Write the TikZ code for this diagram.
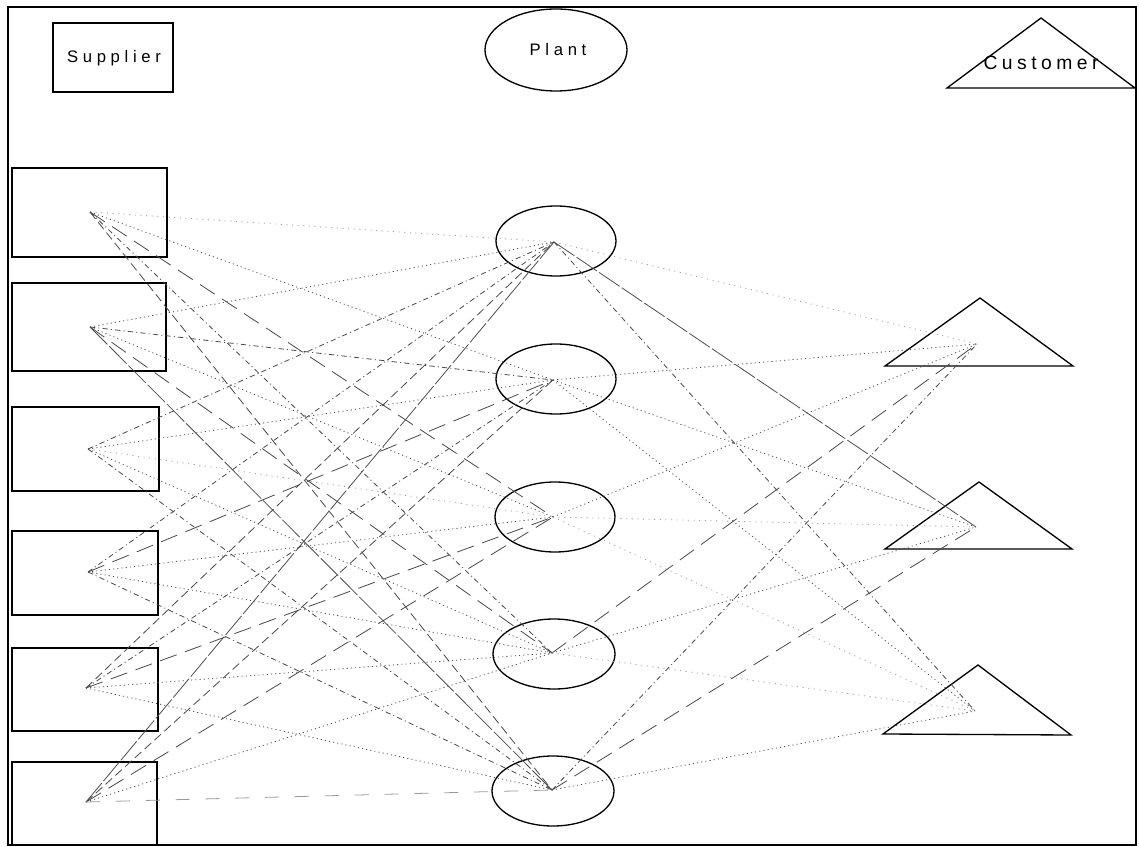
\documentclass[tikz,border=0pt]{standalone}
\usepackage{fontspec}
\setmainfont{Liberation Sans}
\newfontfamily\spacedfont[LetterSpace=28]{Liberation Sans}
\newfontfamily\widefont[LetterSpace=23]{Liberation Sans}
\begin{document}
\begin{tikzpicture}[x=0.02cm,y=-0.02cm,
  outline/.style={draw=black, line width=0.75pt},
  frame/.style={draw=black, line width=1.2pt},
  caption/.style={font=\spacedfont\fontsize{9.5}{11}\selectfont, inner sep=0pt},
  flow/.style={line width=0.45pt, draw=black!72},
  fdot/.style={flow, dash pattern=on 0.6pt off 1.8pt},
  ffaint/.style={flow, draw=black!40, dash pattern=on 0.6pt off 2.6pt},
  flong/.style={flow, dash pattern=on 10pt off 5pt},
  fdd/.style={flow, dash pattern=on 3pt off 1.8pt on 0.6pt off 1.8pt},
  fdash/.style={flow, dash pattern=on 5pt off 2.5pt},
  fsolid/.style={flow, draw=black!70, dash pattern=on 14pt off 1.5pt},
  flfaint/.style={flow, draw=black!40, dash pattern=on 8pt off 9pt},
]
\useasboundingbox (0,0) rectangle (1139,847);

% outer frame
\draw[frame] (8,7) rectangle (1136,845);

% legend
\draw[outline] (53,23) rectangle (173,92);
\node[caption] (lsup) at (114,58) {Supplier};
\draw[outline] (556,50) ellipse [x radius=71, y radius=41];
\node[caption] (lplant) at (558,50) {Plant};
\draw[outline] (947,88) -- (1041,18) -- (1135,88) -- cycle;
\node[caption, font=\widefont\fontsize{11}{13}\selectfont] (lcust) at (1041,63) {Customer};

% suppliers
\draw[outline] (12,168) rectangle (167,257);
\draw[outline] (12,283) rectangle (166,371);
\draw[outline] (12,407) rectangle (159,491);
\draw[outline] (12,531) rectangle (158,615);
\draw[outline] (12,648) rectangle (158,731);
\draw[outline] (12,762) rectangle (157,845);
\coordinate (s1) at (90,212);
\coordinate (s2) at (90,327);
\coordinate (s3) at (88,449);
\coordinate (s4) at (88,572);
\coordinate (s5) at (86,688);
\coordinate (s6) at (86,802);

% plants
\draw[outline] (556,241) ellipse [x radius=60, y radius=35];
\draw[outline] (556,379) ellipse [x radius=60, y radius=35];
\draw[outline] (555,517) ellipse [x radius=60, y radius=35];
\draw[outline] (554,654) ellipse [x radius=61, y radius=35];
\draw[outline] (553,791) ellipse [x radius=61, y radius=35];
\coordinate (p1) at (554,242);
\coordinate (p2) at (553,380);
\coordinate (p3) at (553,517);
\coordinate (p4) at (552,653);
\coordinate (p5) at (552,790);

% customers
\draw[outline] (885,366) -- (980,298) -- (1073,366) -- cycle;
\draw[outline] (885,549) -- (979,482) -- (1072,549) -- cycle;
\draw[outline] (883,734) -- (978,665) -- (1071,735) -- cycle;
\coordinate (c1) at (977,344);
\coordinate (c2) at (976,527);
\coordinate (c3) at (975,711);

% supplier -> plant flows
\draw[ffaint] (s1) -- (p1);
\draw[fdot]   (s1) -- (p2);
\draw[flong]  (s1) -- (p3);
\draw[fdd]    (s1) -- (p4);
\draw[fdash]  (s1) -- (p5);

\draw[fdot]   (s2) -- (p1);
\draw[fdd]    (s2) -- (p2);
\draw[fdot]   (s2) -- (p3);
\draw[flong]  (s2) -- (p4);
\draw[fsolid] (s2) -- (p5);

\draw[fdd]    (s3) -- (p1);
\draw[fdot]   (s3) -- (p2);
\draw[ffaint] (s3) -- (p3);
\draw[fdot]   (s3) -- (p4);
\draw[fdd]    (s3) -- (p5);

\draw[fdd]    (s4) -- (p1);
\draw[flong]  (s4) -- (p2);
\draw[fdot]   (s4) -- (p3);
\draw[fdot]   (s4) -- (p4);
\draw[fdd]    (s4) -- (p5);

\draw[fdash]  (s5) -- (p1);
\draw[fdd]    (s5) -- (p2);
\draw[flong]  (s5) -- (p3);
\draw[fdot]   (s5) -- (p4);
\draw[fdot]   (s5) -- (p5);

\draw[fsolid] (s6) -- (p1);
\draw[fdash]  (s6) -- (p2);
\draw[flong]  (s6) -- (p3);
\draw[fdot]   (s6) -- (p4);
\draw[flfaint](s6) -- (p5);

% plant -> customer flows
\draw[ffaint] (p1) -- (c1);
\draw[fsolid] (p1) -- (c2);
\draw[fdd]    (p1) -- (c3);

\draw[fdot]   (p2) -- (c1);
\draw[fdot]   (p2) -- (c2);
\draw[fdot]   (p2) -- (c3);

\draw[fdot]   (p3) -- (c1);
\draw[ffaint] (p3) -- (c2);
\draw[ffaint] (p3) -- (c3);

\draw[flong]  (p4) -- (c1);
\draw[fdot]   (p4) -- (c2);
\draw[ffaint] (p4) -- (c3);

\draw[fdd]    (p5) -- (c1);
\draw[flong]  (p5) -- (c2);
\draw[fdot]   (p5) -- (c3);
\end{tikzpicture}
\end{document}
